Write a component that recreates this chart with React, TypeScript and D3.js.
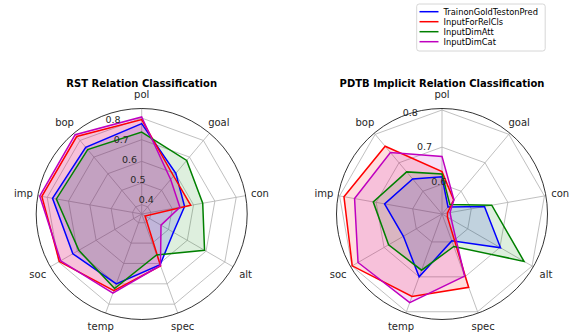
import React from "react";
import * as d3 from "d3";

const categories = ["pol", "goal", "con", "alt", "spec", "temp", "soc", "imp", "bop"];
const seriesNames = ["TrainonGoldTestonPred", "InputForRelCls", "InputDimAtt", "InputDimCat"];
const seriesColors = ["#0000ff", "#ff0000", "#008000", "#bf00bf"];

const rstBlue = [0.774, 0.602, 0.558, 0.526, 0.606, 0.700, 0.724, 0.775, 0.759];
const rstRed = [0.793, 0.586, 0.587, 0.375, 0.612, 0.733, 0.796, 0.825, 0.824];
const rstGreen = [0.735, 0.680, 0.643, 0.692, 0.558, 0.723, 0.692, 0.757, 0.745];
const rstMagenta = [0.805, 0.565, 0.536, 0.460, 0.610, 0.746, 0.789, 0.835, 0.835];

const pdtbBlue = [0.620, 0.545, 0.636, 0.702, 0.597, 0.700, 0.640, 0.677, 0.643];
const pdtbRed = [0.634, 0.569, 0.535, 0.537, 0.730, 0.756, 0.799, 0.788, 0.758];
const pdtbGreen = [0.628, 0.553, 0.656, 0.775, 0.613, 0.681, 0.686, 0.708, 0.668];
const pdtbMagenta = [0.675, 0.570, 0.542, 0.549, 0.698, 0.774, 0.781, 0.759, 0.736];

const rstTicks = [0.4, 0.5, 0.6, 0.7, 0.8];
const pdtbTicks = [0.6, 0.7, 0.8];
const rstDomain = [0.357, 0.844];
const pdtbDomain = [0.52, 0.804];

const FONT = "DejaVu Sans, sans-serif";
const R = 105.5;

type RadarProps = {
  cx: number;
  cy: number;
  title: string;
  domain: number[];
  ticks: number[];
  series: number[][];
};

function Radar({ cx, cy, title, domain, ticks, series }: RadarProps) {
  const r = d3.scaleLinear().domain(domain).range([0, R]);
  const n = categories.length;
  const ang = (i: number) => (i * 2 * Math.PI) / n;
  const line = d3
    .lineRadial<number>()
    .angle((_d, i) => ang(i))
    .radius((d) => r(d))
    .curve(d3.curveLinearClosed);
  const ringLine = d3
    .lineRadial<string>()
    .angle((_d, i) => ang(i))
    .radius(() => 0)
    .curve(d3.curveLinearClosed);
  const labelAng = (-22.5 * Math.PI) / 180;
  return (
    <g transform={`translate(${cx},${cy})`}>
      {ticks.map((t) => (
        <path
          key={"ring" + t}
          d={d3.lineRadial<string>().angle((_d, i) => ang(i)).radius(() => r(t)).curve(d3.curveLinearClosed)(categories) || ""}
          fill="none"
          stroke="#b0b0b0"
          strokeWidth={0.8}
        />
      ))}
      {categories.map((c, i) => (
        <line
          key={"spoke" + c}
          x1={0}
          y1={0}
          x2={R * Math.sin(ang(i))}
          y2={-R * Math.cos(ang(i))}
          stroke="#b0b0b0"
          strokeWidth={0.8}
        />
      ))}
      {series.map((s, k) => (
        <path key={"fill" + k} d={line(s) || ""} fill={seriesColors[k]} fillOpacity={0.13} stroke="none" />
      ))}
      {series.map((s, k) => (
        <path key={"line" + k} d={line(s) || ""} fill="none" stroke={seriesColors[k]} strokeWidth={1.5} strokeLinejoin="miter" />
      ))}
      <circle r={R} fill="none" stroke="#000" strokeWidth={0.8} />
      {ticks.map((t) => (
        <text
          key={"tl" + t}
          x={r(t) * Math.sin(labelAng)}
          y={-r(t) * Math.cos(labelAng)}
          dx={0.5}
          dy={-2}
          fontSize={9.5}
          fontFamily={FONT}
          fill="#262626"
          textAnchor="start"
        >
          {t.toFixed(1)}
        </text>
      ))}
      {categories.map((c, i) => (
        <text
          key={"cl" + c}
          x={120 * Math.sin(ang(i))}
          y={-120 * Math.cos(ang(i))}
          fontSize={10}
          fontFamily={FONT}
          fill="#262626"
          textAnchor="middle"
          dominantBaseline="central"
        >
          {c}
        </text>
      ))}
      <text x={0} y={-131} fontSize={10} fontWeight="bold" fontFamily={FONT} fill="#000" textAnchor="middle" dominantBaseline="central">
        {title}
      </text>
    </g>
  );
}

function Legend() {
  const rowY = d3.scaleLinear().domain([0, 3]).range([11.7, 41.7]);
  return (
    <g>
      <rect x={416.7} y={4} width={128.5} height={47} rx={2.5} fill="#fff" fillOpacity={0.8} stroke="#cccccc" strokeWidth={0.8} />
      {seriesNames.map((name, k) => (
        <g key={name}>
          <line x1={419.5} x2={438.5} y1={rowY(k)} y2={rowY(k)} stroke={seriesColors[k]} strokeWidth={1.5} />
          <text x={443.5} y={rowY(k)} fontSize={8.3} fontFamily={FONT} fill="#000" dominantBaseline="central">
            {name}
          </text>
        </g>
      ))}
    </g>
  );
}

export default function App() {
  return (
    <svg width={574} height={336} style={{ position: "absolute", left: 0, top: 0, background: "#fff" }}>
      <rect width={574} height={336} fill="#fff" />
      <Radar
        cx={141.7}
        cy={214}
        title="RST Relation Classification"
        domain={rstDomain}
        ticks={rstTicks}
        series={[rstBlue, rstRed, rstGreen, rstMagenta]}
      />
      <Radar
        cx={442}
        cy={214}
        title="PDTB Implicit Relation Classification"
        domain={pdtbDomain}
        ticks={pdtbTicks}
        series={[pdtbBlue, pdtbRed, pdtbGreen, pdtbMagenta]}
      />
      <Legend />
    </svg>
  );
}
